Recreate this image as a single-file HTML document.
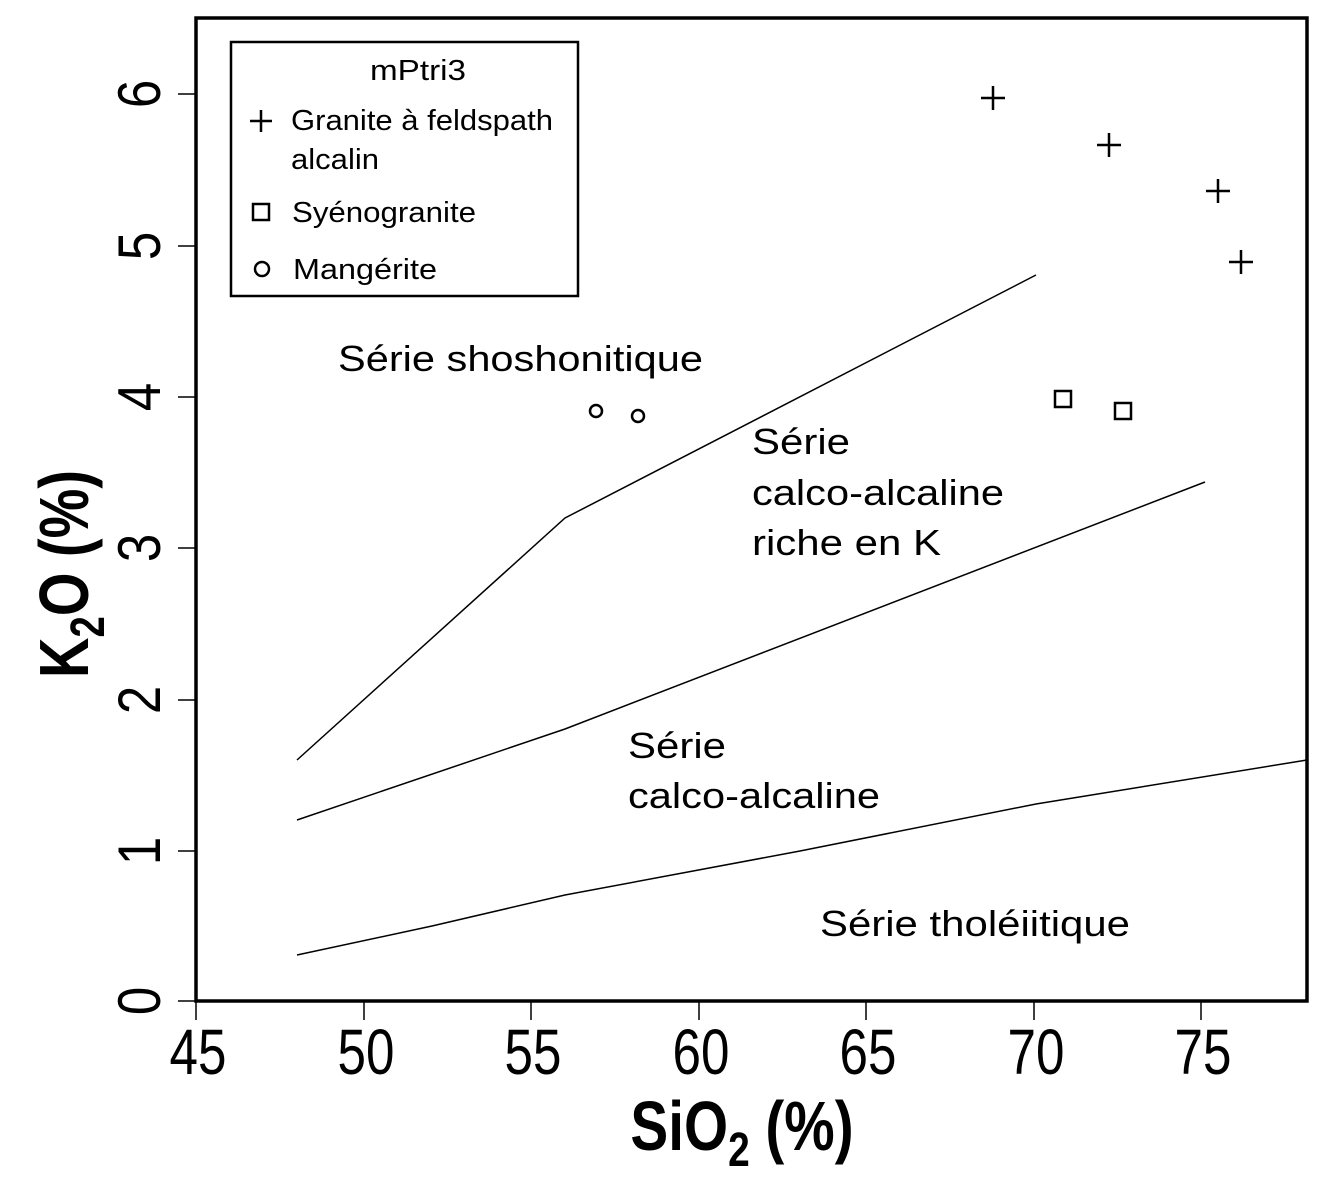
<!DOCTYPE html>
<html><head><meta charset="utf-8"><style>
body{margin:0;background:#fff}
svg{display:block}
text{font-family:"Liberation Sans",sans-serif;fill:#000}
</style></head><body>
<svg width="1333" height="1179" viewBox="0 0 1333 1179" xmlns="http://www.w3.org/2000/svg">
<rect x="196" y="18" width="1111" height="983" fill="none" stroke="#000" stroke-width="3.5"/>
<g stroke="#000" stroke-width="1.5">
<line x1="196" y1="1001" x2="196" y2="1020"/><line x1="364" y1="1001" x2="364" y2="1020"/><line x1="531" y1="1001" x2="531" y2="1020"/><line x1="699" y1="1001" x2="699" y2="1020"/><line x1="866" y1="1001" x2="866" y2="1020"/><line x1="1034" y1="1001" x2="1034" y2="1020"/><line x1="1201" y1="1001" x2="1201" y2="1020"/>
<line x1="178" y1="1001" x2="196" y2="1001"/><line x1="178" y1="851" x2="196" y2="851"/><line x1="178" y1="700" x2="196" y2="700"/><line x1="178" y1="548" x2="196" y2="548"/><line x1="178" y1="397" x2="196" y2="397"/><line x1="178" y1="246" x2="196" y2="246"/><line x1="178" y1="94" x2="196" y2="94"/>
</g>
<g font-size="64" text-anchor="middle">
<text transform="translate(198 1074) scale(0.8 1)">45</text>
<text transform="translate(366 1074) scale(0.8 1)">50</text>
<text transform="translate(533 1074) scale(0.8 1)">55</text>
<text transform="translate(701 1074) scale(0.8 1)">60</text>
<text transform="translate(868 1074) scale(0.8 1)">65</text>
<text transform="translate(1036 1074) scale(0.8 1)">70</text>
<text transform="translate(1203 1074) scale(0.8 1)">75</text>
</g>
<g font-size="60" text-anchor="middle">
<text transform="translate(160 1001) rotate(-90) scale(0.85 1)">0</text>
<text transform="translate(160 851) rotate(-90) scale(0.85 1)">1</text>
<text transform="translate(160 700) rotate(-90) scale(0.85 1)">2</text>
<text transform="translate(160 548) rotate(-90) scale(0.85 1)">3</text>
<text transform="translate(160 397) rotate(-90) scale(0.85 1)">4</text>
<text transform="translate(160 246) rotate(-90) scale(0.85 1)">5</text>
<text transform="translate(160 94) rotate(-90) scale(0.85 1)">6</text>
</g>
<text transform="translate(742 1150) scale(0.81 1)" font-size="70" font-weight="bold" text-anchor="middle">SiO<tspan font-size="48" dy="16">2</tspan><tspan dy="-16"> (%)</tspan></text>
<text transform="translate(88 574) rotate(-90) scale(0.8 1)" font-size="70" font-weight="bold" text-anchor="middle">K<tspan font-size="48" dy="16">2</tspan><tspan dy="-16">O (%)</tspan></text>
<g fill="none" stroke="#000" stroke-width="1.5">
<polyline points="297,760 565,518 1036,275"/>
<polyline points="297,820 565,729 1205,482"/>
<polyline points="297,955 432,926 565,895 800,851 1036,804 1307,760"/>
</g>
<g font-size="36">
<text x="338" y="371" textLength="365" lengthAdjust="spacingAndGlyphs">Série shoshonitique</text>
<text x="752" y="454" textLength="98" lengthAdjust="spacingAndGlyphs">Série</text>
<text x="752" y="505" textLength="252" lengthAdjust="spacingAndGlyphs">calco-alcaline</text>
<text x="752" y="555" textLength="189" lengthAdjust="spacingAndGlyphs">riche en K</text>
<text x="628" y="758" textLength="98" lengthAdjust="spacingAndGlyphs">Série</text>
<text x="628" y="808" textLength="252" lengthAdjust="spacingAndGlyphs">calco-alcaline</text>
<text x="820" y="936" textLength="310" lengthAdjust="spacingAndGlyphs">Série tholéiitique</text>
</g>
<g stroke="#000" stroke-width="2.5" fill="none">
<path d="M981 98h24M993 86v24"/>
<path d="M1097 145h24M1109 133v24"/>
<path d="M1206 191h24M1218 179v24"/>
<path d="M1229 262h24M1241 250v24"/>
<rect x="1055" y="391" width="16" height="16"/>
<rect x="1115" y="403" width="16" height="16"/>
<circle cx="596" cy="411" r="6"/>
<circle cx="638" cy="416" r="6"/>
</g>
<rect x="231" y="42" width="347" height="254" fill="#fff" stroke="#000" stroke-width="2.5"/>
<g font-size="29">
<text x="370" y="80" textLength="96" lengthAdjust="spacingAndGlyphs">mPtri3</text>
<text x="291" y="130" textLength="262" lengthAdjust="spacingAndGlyphs">Granite à feldspath</text>
<text x="291" y="169" textLength="88" lengthAdjust="spacingAndGlyphs">alcalin</text>
<text x="292" y="222" textLength="184" lengthAdjust="spacingAndGlyphs">Syénogranite</text>
<text x="293" y="279" textLength="144" lengthAdjust="spacingAndGlyphs">Mangérite</text>
</g>
<g stroke="#000" stroke-width="2.5" fill="none">
<path d="M250 121h22M261 110v22"/>
<rect x="253" y="204" width="16" height="16"/>
<circle cx="262" cy="269" r="7"/>
</g>
</svg>
</body></html>
